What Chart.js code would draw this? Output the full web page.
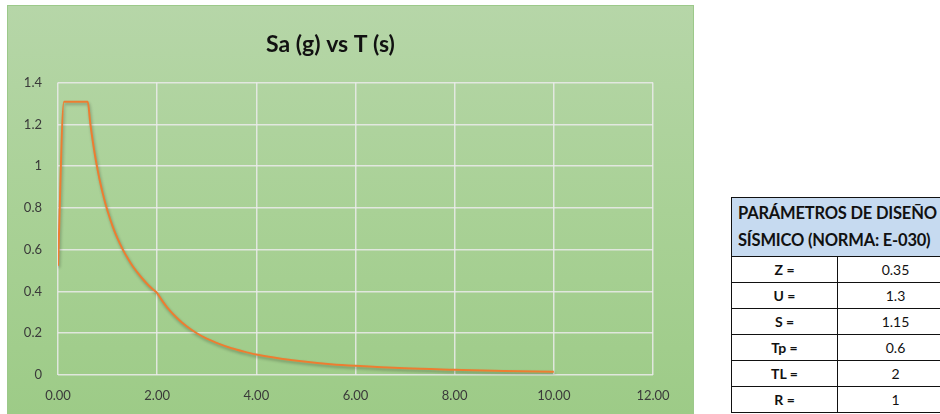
<!DOCTYPE html>
<html>
<head>
<meta charset="utf-8">
<script src="https://cdn.jsdelivr.net/npm/chart.js@4.4.1/dist/chart.umd.min.js"></script>
<style>
  html, body { margin:0; padding:0; background:#fff; width:940px; height:414px; overflow:hidden; }
  #panel { position:absolute; left:7px; top:5px; width:687px; height:412px;
    background: linear-gradient(to bottom, #b6d6a8 0%, #a9d196 50%, #9dcb87 100%);
    border:1px solid #9cc98a; box-sizing:border-box; }
  #c { position:absolute; left:0; top:0; }
  table { position:absolute; left:731px; top:197px; border-collapse:collapse; table-layout:fixed; width:222px;
    font-family: Lato, "Open Sans", sans-serif; color:#111; }
  td { border:1.5px solid #111; height:25px; padding:0; text-align:center; font-size:14px; white-space:nowrap; overflow:hidden; }
  td.h { background:#c6daf0; font-weight:bold; font-size:16.5px; text-align:left; padding:2px 0 2px 6px; line-height:27px; height:auto; letter-spacing:-0.2px; }
  td.k { font-weight:bold; }
</style>
</head>
<body>
<div id="panel"><canvas id="c" width="685" height="410"></canvas></div>
<table>
  <colgroup><col style="width:106px"><col style="width:116px"></colgroup>
  <tr><td class="h" colspan="2">PARÁMETROS DE DISEÑO<br>SÍSMICO (NORMA: E-030)</td></tr>
  <tr><td class="k" id="k0"></td><td class="v" id="v0"></td></tr>
  <tr><td class="k" id="k1"></td><td class="v" id="v1"></td></tr>
  <tr><td class="k" id="k2"></td><td class="v" id="v2"></td></tr>
  <tr><td class="k" id="k3"></td><td class="v" id="v3"></td></tr>
  <tr><td class="k" id="k4"></td><td class="v" id="v4"></td></tr>
  <tr><td class="k" id="k5"></td><td class="v" id="v5"></td></tr>
</table>
<script>
const chartTitle = "Sa (g) vs T (s)";
const periodT = [0, 0.12, 0.6, 0.65, 0.7, 0.75, 0.8, 0.85, 0.9, 0.95, 1.0, 1.1, 1.2, 1.3, 1.4, 1.5, 1.6, 1.7, 1.8, 1.9, 2.0, 2.1, 2.2, 2.4, 2.6, 2.8, 3.0, 3.25, 3.5, 3.75, 4.0, 4.5, 5.0, 5.5, 6.0, 7.0, 8.0, 9.0, 10.0];
const accelSa = [0.523, 1.308, 1.308, 1.207, 1.121, 1.046, 0.981, 0.923, 0.872, 0.826, 0.785, 0.713, 0.654, 0.604, 0.561, 0.523, 0.491, 0.462, 0.436, 0.413, 0.392, 0.356, 0.324, 0.273, 0.232, 0.200, 0.174, 0.149, 0.128, 0.112, 0.098, 0.078, 0.063, 0.052, 0.044, 0.032, 0.025, 0.019, 0.016];
const yTicks = [0, 0.2, 0.4, 0.6, 0.8, 1, 1.2, 1.4];
const xTicks = [0, 2, 4, 6, 8, 10, 12];
const paramLabels = ["Z =", "U =", "S =", "Tp =", "TL =", "R ="];
const paramValues = ["0.35", "1.3", "1.15", "0.6", "2", "1"];

paramLabels.forEach((l, i) => {
  document.getElementById('k' + i).textContent = l;
  document.getElementById('v' + i).textContent = paramValues[i];
});

const shadowPlugin = {
  id: 'lineShadow',
  beforeDatasetsDraw(chart) {
    const ctx = chart.ctx; ctx.save();
    ctx.shadowColor = 'rgba(0,0,0,0.3)'; ctx.shadowBlur = 3; ctx.shadowOffsetX = 1; ctx.shadowOffsetY = 2;
  },
  afterDatasetsDraw(chart) { chart.ctx.restore(); }
};

const fontFam = 'Lato, "Open Sans", sans-serif';
new Chart(document.getElementById('c'), {
  type: 'line',
  data: {
    datasets: [{
      data: periodT.map((t, i) => ({ x: t, y: accelSa[i] })),
      borderColor: '#ed7d31', borderWidth: 2, pointRadius: 0,
      cubicInterpolationMode: 'monotone', fill: false
    }]
  },
  options: {
    responsive: false, animation: false,
    layout: { padding: { left: 0, right: 40, top: 0, bottom: 0 } },
    plugins: {
      legend: { display: false }, tooltip: { enabled: false },
      title: { display: true, text: chartTitle, color: '#111',
        font: { family: fontFam, size: 23, weight: 'bold' }, padding: { top: 25, bottom: 24 } }
    },
    scales: {
      x: {
        type: 'linear', min: 0, max: 12,
        afterBuildTicks(ax) { ax.ticks = xTicks.map(v => ({ value: v })); },
        afterFit(ax) { ax.height = 41; },
        grid: { color: 'rgba(235,235,235,0.85)', lineWidth: 1.5, drawTicks: false },
        border: { display: false },
        ticks: { padding: 13, color: '#3a3a3a', font: { family: fontFam, size: 13 },
          callback: v => Number(v).toFixed(2) }
      },
      y: {
        type: 'linear', min: 0, max: 1.4,
        afterBuildTicks(ax) { ax.ticks = yTicks.map(v => ({ value: v })); },
        afterFit(ax) { ax.width = 50; },
        grid: { color: 'rgba(235,235,235,0.85)', lineWidth: 1.5, drawTicks: false },
        border: { display: false },
        ticks: { padding: 16, color: '#3a3a3a', font: { family: fontFam, size: 13 },
          callback: v => String(Math.round(v * 10) / 10) }
      }
    }
  },
  plugins: [shadowPlugin]
});
</script>
</body>
</html>
